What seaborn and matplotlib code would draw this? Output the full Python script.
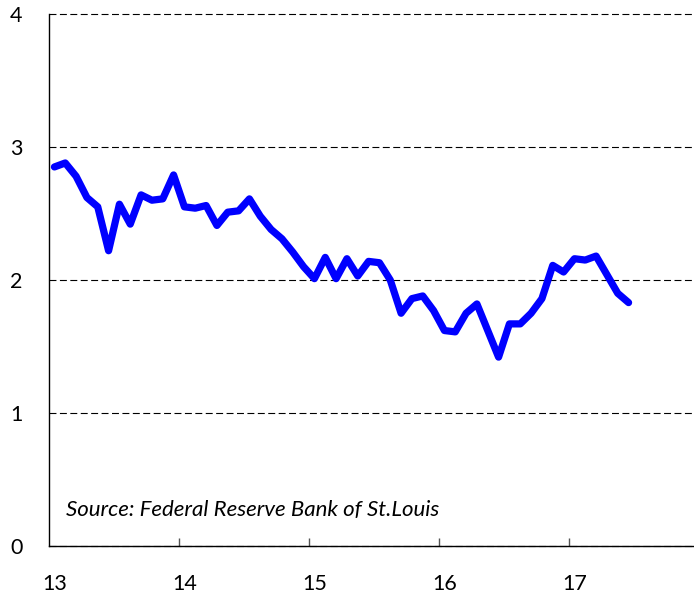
import matplotlib
matplotlib.use("Agg")
import matplotlib.pyplot as plt
import numpy as np
import pandas as pd
import seaborn as sns

# monthly values, Jan 2013 .. Jun 2017
values = [
    2.85, 2.88, 2.78, 2.62, 2.55, 2.22, 2.57, 2.42, 2.64, 2.60, 2.61, 2.79,
    2.55, 2.54, 2.56, 2.41, 2.51, 2.52, 2.61, 2.48, 2.38, 2.31, 2.21, 2.10,
    2.01, 2.17, 2.01, 2.16, 2.03, 2.14, 2.13, 2.00, 1.75, 1.86, 1.88, 1.77,
    1.62, 1.61, 1.75, 1.82, 1.62, 1.42, 1.67, 1.67, 1.75, 1.86, 2.11, 2.06,
    2.16, 2.15, 2.18, 2.04, 1.90, 1.83,
]
start_year = 13
year_labels = ["13", "14", "15", "16", "17"]
y_ticks = [0, 1, 2, 3, 4]
source_text = "Source: Federal Reserve Bank of St.Louis"

months = np.arange(len(values))
df = pd.DataFrame({"x": start_year + (months + 0.5) / 12, "value": values})

sns.set_theme(style="white")
plt.rcParams["font.family"] = ["Lato", "DejaVu Sans"]
plt.rcParams["lines.scale_dashes"] = False

fig = plt.figure(figsize=(6.94, 5.94), dpi=100)
ax = fig.add_axes([49 / 694, 1 - 546 / 594, 1 - 49 / 694, (546 - 14) / 594])

sns.lineplot(data=df, x="x", y="value", ax=ax, color="#0000FF", linewidth=5.2,
             solid_capstyle="round", solid_joinstyle="round")

ax.set_xlim(start_year, start_year + (694 - 49) / 130)
ax.set_ylim(0, 4)
ax.set_xlabel("")
ax.set_ylabel("")

# major ticks mark the year boundaries, minor ticks carry the labels (at January)
ax.set_xticks([start_year + k for k in range(1, len(year_labels))])
ax.set_xticklabels([])
ax.set_xticks([start_year + k + 0.5 / 12 for k in range(len(year_labels))], minor=True)
ax.set_xticklabels(year_labels, minor=True)
ax.tick_params(axis="x", which="major", direction="in", length=6, width=1, color="#555555", bottom=True)
ax.tick_params(axis="x", which="minor", length=0, pad=20, labelsize=15.5, labelcolor="black")

ax.set_yticks(y_ticks)
ax.tick_params(axis="y", length=0, pad=19, labelsize=15.5, labelcolor="black")

ax.yaxis.grid(True, color="black", linewidth=0.8, linestyle=(0, (5, 2.5)))
for gl in ax.get_ygridlines():
    gl.set_clip_on(False)
ax.xaxis.grid(False)

for side in ["top", "right"]:
    ax.spines[side].set_visible(False)
for side in ["left", "bottom"]:
    ax.spines[side].set_color("black")
    ax.spines[side].set_linewidth(1.0)

# position in pixels from the bottom-left corner of the figure
ax.text(66, 594 - 510, source_text, transform=None, fontsize=16, style="italic",
        ha="left", va="center", color="black")

fig.savefig("out.png", dpi=100)
